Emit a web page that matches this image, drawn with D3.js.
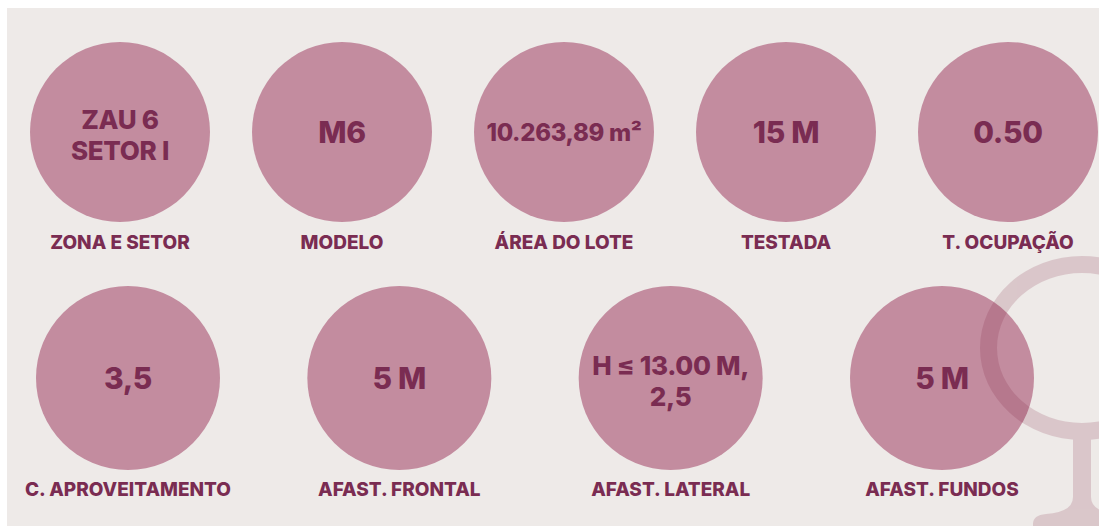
<!DOCTYPE html>
<html>
<head>
<meta charset="utf-8">
<script src="https://cdn.jsdelivr.net/npm/d3@7/dist/d3.min.js"></script>
<style>
  html, body { margin: 0; padding: 0; background: #ffffff; }
  svg { display: block; }
</style>
</head>
<body>
<svg id="chart" width="1099" height="526"></svg>
<script>
// ---- data ----
const row1Labels = ["ZONA E SETOR", "MODELO", "ÁREA DO LOTE", "TESTADA", "T. OCUPAÇÃO"];
const row1Values = [["ZAU 6", "SETOR I"], ["M6"], ["10.263,89 m²"], ["15 M"], ["0.50"]];
const row2Labels = ["C. APROVEITAMENTO", "AFAST. FRONTAL", "AFAST. LATERAL", "AFAST. FUNDOS"];
const row2Values = [["3,5"], ["5 M"], ["H ≤ 13.00 M,", "2,5"], ["5 M"]];

// ---- styles ----
const W = 1099, H = 526;
const BG = "#eeeae8", CIRCLE = "#c38c9f", TEXT = "#7a2c52";
const FONT = "Inter, 'Noto Sans', sans-serif";

const svg = d3.select("#chart");
svg.append("rect").attr("width", W).attr("height", H).attr("fill", "#ffffff");
svg.append("rect").attr("x", 7).attr("y", 8).attr("width", W - 7).attr("height", H - 8).attr("fill", BG);

const x1 = d3.scalePoint().domain(row1Labels).range([120, 1008]);
const x2 = d3.scalePoint().domain(row2Labels).range([128, 942]);

const rows = [
  { labels: row1Labels, values: row1Values, x: x1, cy: 132, r: 90, labelY: 249 },
  { labels: row2Labels, values: row2Values, x: x2, cy: 378, r: 92, labelY: 496 }
];

const circlesG = svg.append("g");
const textG = svg.append("g");

rows.forEach(row => {
  const items = row.labels.map((l, i) => ({ label: l, lines: row.values[i] }));
  circlesG.selectAll(null).data(items).enter().append("circle")
    .attr("cx", d => row.x(d.label)).attr("cy", row.cy).attr("r", row.r)
    .attr("fill", CIRCLE);

  items.forEach(d => {
    const cx = row.x(d.label);
    const n = d.lines.length;
    let fs = n > 1 ? 26 : 30;
    const place = (t, f) => t.selectAll("tspan").each(function(_, j) {
      d3.select(this).attr("x", cx)
        .attr("y", row.cy + f * 0.36 - (n - 1) * f * 1.2 / 2 + j * f * 1.2 + (n > 1 ? 3 : 0));
    });
    const t = textG.append("text")
      .attr("text-anchor", "middle")
      .attr("font-family", FONT).attr("font-weight", 800)
      .attr("letter-spacing", -0.3)
      .attr("font-size", fs).attr("fill", TEXT);
    d.lines.forEach(line => t.append("tspan").text(line));
    place(t, fs);
    // shrink to fit inside circle
    const bb = t.node().getBBox();
    const maxW = row.r * 2 - 24;
    if (bb.width > maxW) {
      fs = fs * maxW / bb.width;
      t.attr("font-size", fs);
      place(t, fs);
    }
    textG.append("text")
      .attr("x", cx).attr("y", row.labelY)
      .attr("text-anchor", "middle")
      .attr("font-family", FONT).attr("font-weight", 800)
      .attr("font-size", 19).attr("fill", TEXT)
      .text(d.label);
  });
});

// decorative female-symbol ring (semi-transparent)
const deco = svg.append("g").attr("opacity", 0.16);
const DC = "rgb(118,20,52)";
deco.append("path")
  .attr("fill", DC).attr("fill-rule", "evenodd")
  .attr("d", (() => {
    const cx = 1082, cy = 348, ro = [102, 92], ri = [85, 75];
    const e = (rx, ry) => `M${cx - rx},${cy} A${rx},${ry} 0 1,0 ${cx + rx},${cy} A${rx},${ry} 0 1,0 ${cx - rx},${cy} Z`;
    return e(ro[0], ro[1]) + " " + e(ri[0], ri[1]);
  })());
deco.append("path")
  .attr("fill", DC)
  .attr("d", "M1073,436 L1073,497 Q1073,512 1046,514 Q1033,515 1033,524 L1033,530 L1131,530 L1131,524 Q1131,515 1118,514 Q1091,512 1091,497 L1091,436 Z");
</script>
</body>
</html>
